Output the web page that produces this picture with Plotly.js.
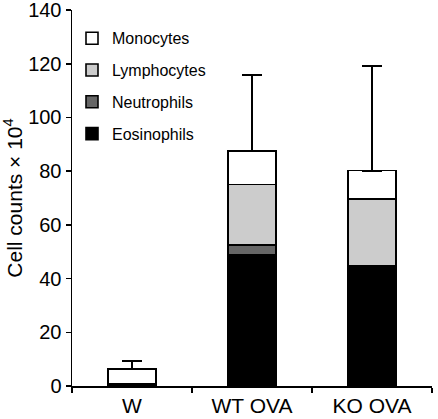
<!DOCTYPE html>
<html>
<head>
<meta charset="utf-8">
<script src="https://cdn.plot.ly/plotly-3.0.1.min.js"></script>
<style>html,body{margin:0;padding:0;background:#fff;}#chart{width:438px;height:419px;}</style>
</head>
<body>
<div id="chart"></div>
<script>
const categories = ["W", "WT OVA", "KO OVA"];
const eosinophils = [0.5, 48.8, 44.0];
const neutrophils = [0.1, 3.6, 0.6];
const lymphocytes = [0.4, 22.7, 25.0];
const monocytes = [5.4, 12.5, 10.6];
const errorUp = [2.9, 28.1, 39.0];
const yTicks = [0, 20, 40, 60, 80, 100, 120, 140];

const lineStyle = {color: "#000", width: 1.6};
function barTrace(name, vals, fill, rank, extra) {
  return Object.assign({
    type: "bar", name: name, x: categories, y: vals, width: 0.4,
    legendgroup: name, legendrank: rank,
    marker: {color: fill, line: lineStyle}
  }, extra || {});
}
const traces = [
  barTrace("Eosinophils", eosinophils, "#000000", 4),
  barTrace("Neutrophils", neutrophils, "#666666", 3),
  barTrace("Lymphocytes", lymphocytes, "#cccccc", 2),
  barTrace("Monocytes", monocytes, "#ffffff", 1, {
    error_y: {type: "data", symmetric: false, array: errorUp, arrayminus: [0,0,0],
              color: "#000", thickness: 2, width: 10}
  })
];

const font = {family: "Liberation Sans, Arial, sans-serif", color: "#000"};
const layout = {
  width: 438, height: 419,
  margin: {l: 72, r: 6, t: 10, b: 33},
  paper_bgcolor: "#fff", plot_bgcolor: "#fff",
  barmode: "stack",
  showlegend: true,
  font: Object.assign({size: 21}, font),
  legend: {
    x: 0.0, y: 0.97, xanchor: "left", yanchor: "top",
    traceorder: "grouped", tracegroupgap: 8,
    font: Object.assign({size: 16}, font),
    bgcolor: "rgba(0,0,0,0)", borderwidth: 0
  },
  xaxis: {
    range: [-0.5, 2.5], tickson: "boundaries", ticks: "outside", ticklen: 5,
    tickwidth: 1.5, tickcolor: "#000",
    showline: true, linecolor: "#000", linewidth: 1.5, showgrid: false,
    zeroline: false, fixedrange: true, automargin: false,
    tickfont: Object.assign({size: 21}, font)
  },
  yaxis: {
    range: [0, 140.02], tickvals: yTicks,
    ticks: "outside", ticklen: 5, tickwidth: 1.5, tickcolor: "#000",
    showline: true, linecolor: "#000", linewidth: 1.5, showgrid: false,
    zeroline: false, automargin: false, ticklabeloverflow: "allow",
    tickfont: Object.assign({size: 20}, font),
    title: {text: "Cell counts × 10<sup>4</sup>", font: Object.assign({size: 21}, font), standoff: 6}
  }
};
Plotly.newPlot("chart", traces, layout, {staticPlot: true, displayModeBar: false});
</script>
</body>
</html>
